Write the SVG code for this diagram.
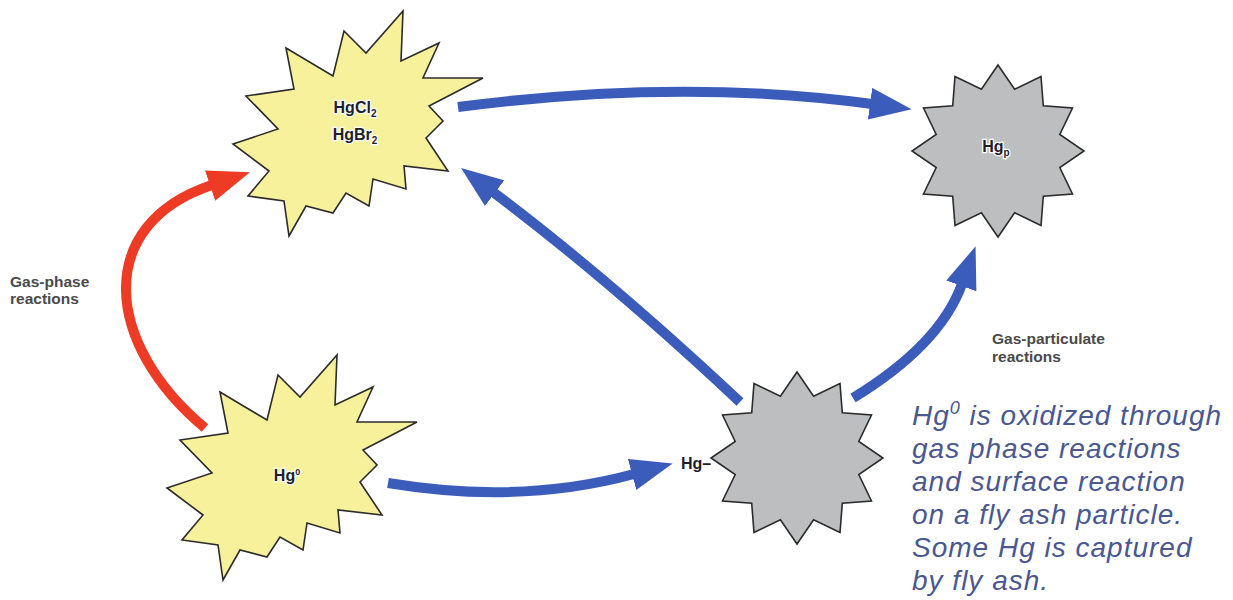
<svg xmlns="http://www.w3.org/2000/svg" xmlns:xlink="http://www.w3.org/1999/xlink" width="1233" height="600" viewBox="0 0 1233 600">
<style>
.ystar{fill:#f7f19c;stroke:#2b2b2b;stroke-width:1.6;stroke-linejoin:miter}
.gstar{fill:#bdbec0;stroke:#2b2b2b;stroke-width:1.6}
.lbl{font-family:"Liberation Sans Narrow","Liberation Sans",Arial,sans-serif;font-weight:bold;font-size:16px;fill:#1e1e2a;stroke:#ffffff;stroke-width:2.5;paint-order:stroke;text-anchor:middle}
.note{font-family:"Liberation Sans",Arial,sans-serif;font-weight:bold;font-size:15.5px;fill:#4a4a4a}
.para{font-family:"Liberation Sans",Arial,sans-serif;font-style:italic;font-size:28px;fill:#4a5790;letter-spacing:1px}
.blue{fill:none;stroke:#3b5cba;stroke-width:10}
.red{fill:none;stroke:#ee3b26;stroke-width:10}
</style>
<defs>
<marker id="headB" markerUnits="userSpaceOnUse" viewBox="0 0 42 32" refX="2" refY="16" markerWidth="42" markerHeight="32" orient="auto">
<path d="M0,0 L42,16 L0,32 z" fill="#3b5cba"/>
</marker>
<marker id="headR" markerUnits="userSpaceOnUse" viewBox="0 0 42 32" refX="2" refY="16" markerWidth="42" markerHeight="32" orient="auto">
<path d="M0,0 L42,16 L0,32 z" fill="#ee3b26"/>
</marker>
<polygon id="burst" points="220,392 267,420 278,375 300,397 337,355 335,405 373,387 357,422 417,422 363,450 377,465 360,482 382,515 338,510 340,533 307,523 303,550 280,537 267,557 240,550 223,580 218,545 182,540 203,515 167,488 212,473 180,440 228,433"/>
<polygon id="gear" points="0,-86 16.6,-61.8 43,-74.5 45.3,-45.3 74.5,-43 61.8,-16.6 86,0 61.8,16.6 74.5,43 45.3,45.3 43,74.5 16.6,61.8 0,86 -16.6,61.8 -43,74.5 -45.3,45.3 -74.5,43 -61.8,16.6 -86,0 -61.8,-16.6 -74.5,-43 -45.3,-45.3 -43,-74.5 -16.6,-61.8"/>
</defs>
<rect width="1233" height="600" fill="#ffffff"/>

<g id="connectors">
<path class="blue" d="M458,107 Q680,78 872,104" marker-end="url(#headB)"/>
<path class="blue" d="M388,483 Q520,505 634,474" marker-end="url(#headB)"/>
<path class="blue" d="M740,402 Q610,280 493,192" marker-end="url(#headB)"/>
<path class="blue" d="M853,398 Q940,345 962,284" marker-end="url(#headB)"/>
<path class="red" d="M205,428 C105,345 92,225 212,185" marker-end="url(#headR)"/>
</g>

<g id="node-hgcl2">
<use xlink:href="#burst" href="#burst" class="ystar" transform="translate(66,-344)"/>
<text class="lbl" x="355" y="113">HgCl<tspan font-size="10" dy="4">2</tspan></text>
<text class="lbl" x="355" y="140">HgBr<tspan font-size="10" dy="4">2</tspan></text>
</g>

<g id="node-hg0">
<use xlink:href="#burst" href="#burst" class="ystar"/>
<text class="lbl" x="287" y="481">Hg<tspan font-size="9" dy="-6">0</tspan></text>
</g>

<g id="node-hgp">
<use xlink:href="#gear" href="#gear" class="gstar" transform="translate(998,151)"/>
<text class="lbl" x="996" y="152">Hg<tspan font-size="10" dy="4">p</tspan></text>
</g>

<g id="node-flyash">
<use xlink:href="#gear" href="#gear" class="gstar" transform="translate(797,458)"/>
</g>

<g id="label-hgdash">
<text class="lbl" x="696" y="469">Hg–</text>
</g>

<g id="label-gasphase">
<text class="note" x="10" y="287">Gas-phase</text>
<text class="note" x="10" y="304">reactions</text>
</g>

<g id="label-gasparticulate">
<text class="note" x="992" y="344">Gas-particulate</text>
<text class="note" x="992" y="362">reactions</text>
</g>

<g id="caption">
<text class="para" x="912" y="425">Hg<tspan font-size="18" dy="-11">0</tspan><tspan dy="11"> is oxidized through</tspan></text>
<text class="para" x="912" y="458">gas phase reactions</text>
<text class="para" x="912" y="491">and surface reaction</text>
<text class="para" x="912" y="524">on a fly ash particle.</text>
<text class="para" x="912" y="557">Some Hg is captured</text>
<text class="para" x="912" y="590">by fly ash.</text>
</g>
</svg>
